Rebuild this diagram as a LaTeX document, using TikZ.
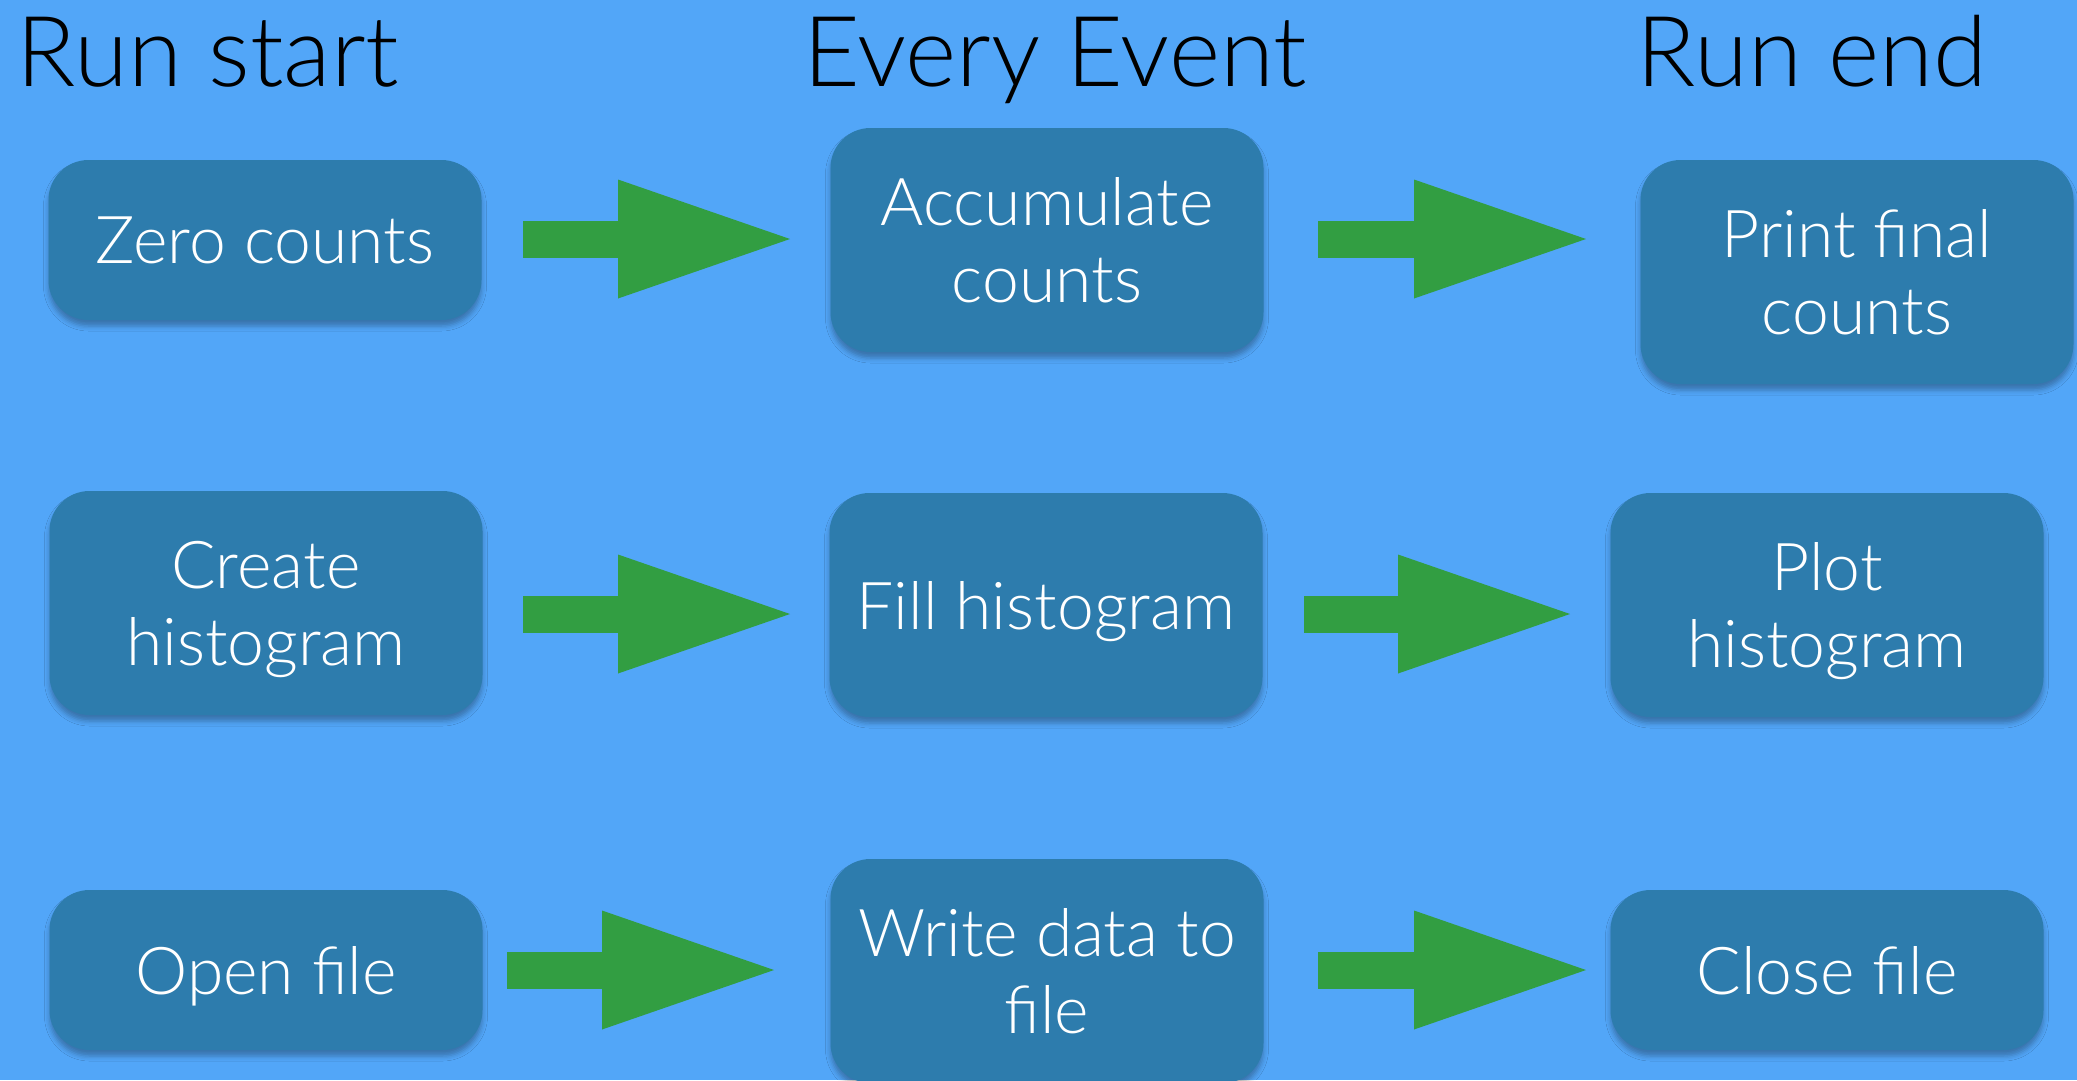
\documentclass[tikz,border=0pt]{standalone}
\usepackage{fontspec}
\setmainfont{Lato Light}
\usetikzlibrary{arrows.meta,shadows.blur}

\definecolor{skyblue}{RGB}{82,166,248}
\definecolor{stepblue}{RGB}{45,124,173}
\definecolor{arrowgreen}{RGB}{50,158,66}

\tikzset{
  stagebox/.style={rectangle, rounded corners=40pt, fill=stepblue, text=white,
    minimum width=433pt, align=center, inner sep=0pt, text depth=0pt,
    font=\fontsize{66}{77}\selectfont,
    blur shadow={shadow xshift=0pt, shadow yshift=-6pt,
                 shadow blur radius=5pt, shadow opacity=30}},
  lowbox/.style={stagebox, minimum height=160pt},
  tallbox/.style={stagebox, minimum height=224pt},
  heading/.style={anchor=base, inner sep=0pt, text=black,
    font=\fontsize{98}{118}\selectfont},
  flow/.style={arrowgreen, line width=37pt,
    -{Triangle[length=172pt, width=119pt, line width=0pt]}}
}

\begin{document}
\begin{tikzpicture}[x=1pt,y=-1pt]
  % page and background
  \fill[skyblue] (0,0) rectangle (2077,1080);
  \useasboundingbox (0,0) rectangle (2077,1080);

  % column headings
  \node[heading] (hstart) at (208,86)  {Run start};
  \node[heading] (hevery) at (1055,86) {Every Event};
  \node[heading] (hend)   at (1812,86) {Run end};

  % counting
  \node[lowbox]  (zero)   at (265,240)  {Zero counts};
  \node[tallbox] (accum)  at (1047,240) {Accumulate\\counts};
  \node[tallbox] (printc) at (1857,272) {Print final\\counts};

  % histogramming
  \node[tallbox] (create) at (266,603)  {Create\\histogram};
  \node[tallbox] (fillh)  at (1046,605) {Fill histogram};
  \node[tallbox] (plot)   at (1827,605) {Plot\\histogram};

  % file output
  \node[lowbox]  (openf)  at (266,970)  {Open file};
  \node[tallbox] (writef) at (1047,971) {Write data to\\file};
  \node[lowbox]  (closef) at (1827,970) {Close file};

  % arrow end points
  \coordinate (a1s) at (523,239);  \coordinate (a1e) at (790,239);
  \coordinate (a2s) at (1318,239); \coordinate (a2e) at (1586,239);
  \coordinate (b1s) at (523,614);  \coordinate (b1e) at (790,614);
  \coordinate (b2s) at (1304,614); \coordinate (b2e) at (1570,614);
  \coordinate (c1s) at (507,970);  \coordinate (c1e) at (774,970);
  \coordinate (c2s) at (1318,970); \coordinate (c2e) at (1586,970);

  % flow arrows
  \draw[flow] (a1s) -- (a1e);
  \draw[flow] (a2s) -- (a2e);
  \draw[flow] (b1s) -- (b1e);
  \draw[flow] (b2s) -- (b2e);
  \draw[flow] (c1s) -- (c1e);
  \draw[flow] (c2s) -- (c2e);
\end{tikzpicture}
\end{document}
